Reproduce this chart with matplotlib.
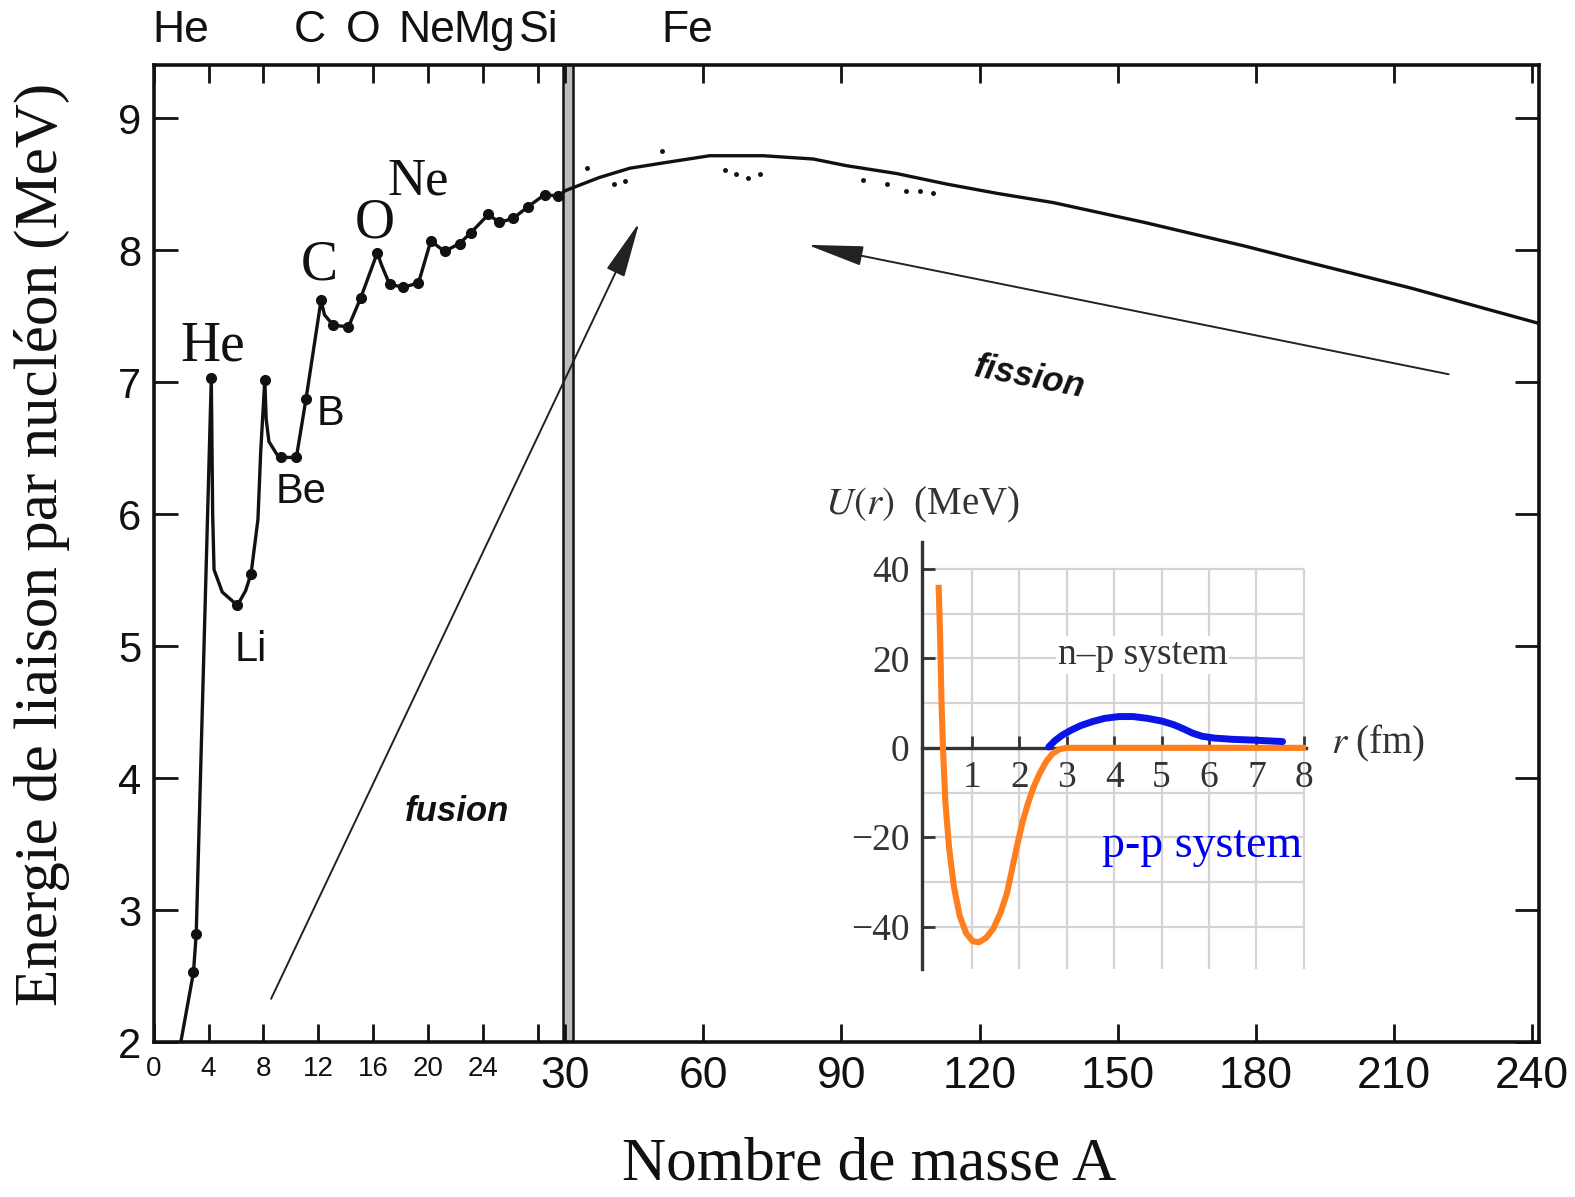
import matplotlib

matplotlib.use('Agg')
import matplotlib.pyplot as plt
import matplotlib.transforms as mtransforms
import numpy as np

plt.rcParams['mathtext.fontset'] = 'stix'

SANS = 'Liberation Sans'
SERIF = 'Liberation Serif'

# binding energy per nucleon curve (hand-drawn path through the nuclides)
curve_A = [1.8, 2.9, 3.1, 4.2, 4.3, 4.4, 5.0, 6.1, 6.7, 7.1, 7.6, 7.8, 8.1, 8.2, 8.4, 9.0,
           9.3, 10.4, 11.1, 12.2, 12.45, 13.1, 14.2, 15.1, 16.3, 16.6, 17.2, 18.2, 19.3,
           20.2, 21.2, 22.3, 23.1, 24.4, 25.2, 26.2, 27.3, 28.5, 29.5,
           30, 37.4, 44, 51.2, 61.4, 73, 83.9, 91, 102, 112.9, 123.8, 136, 155.8,
           177.7, 192.3, 214, 228.5, 241]
curve_E = [1.9, 2.53, 2.82, 7.03, 6.0, 5.58, 5.41, 5.31, 5.42, 5.55, 5.96, 6.47, 7.02, 6.72, 6.55, 6.45,
           6.43, 6.43, 6.87, 7.62, 7.51, 7.43, 7.42, 7.64, 7.98, 7.89, 7.74, 7.72, 7.75,
           8.07, 7.99, 8.05, 8.13, 8.27, 8.21, 8.24, 8.33, 8.42, 8.41,
           8.45, 8.55, 8.62, 8.66, 8.715, 8.715, 8.69, 8.64, 8.58, 8.50, 8.43, 8.36, 8.21,
           8.03, 7.90, 7.71, 7.57, 7.45]

# measured nuclides shown as dots
dot_A = [2.9, 3.1, 4.2, 6.1, 7.1, 8.1, 9.3, 10.4, 11.1, 12.2, 13.1, 14.2, 15.1, 16.3,
         17.2, 18.2, 19.3, 20.2, 21.2, 22.3, 23.1, 24.4, 25.2, 26.2, 27.3, 28.5, 29.5]
dot_E = [2.53, 2.82, 7.03, 5.31, 5.55, 7.02, 6.43, 6.43, 6.87, 7.62, 7.43, 7.42, 7.64, 7.98,
         7.74, 7.72, 7.75, 8.07, 7.99, 8.05, 8.13, 8.27, 8.21, 8.24, 8.33, 8.42, 8.41]

# scattered isotopes off the main curve
iso_A = [34.8, 40.7, 42.9, 51, 64.6, 67, 69.7, 72.3, 94.7, 100, 104, 107, 110]
iso_E = [8.62, 8.50, 8.52, 8.75, 8.61, 8.58, 8.55, 8.58, 8.53, 8.50, 8.45, 8.45, 8.43]

# element annotations on the curve: (text, A, E, family, size)
curve_labels = [('He', 4.3, 7.27, SERIF, 40), ('C', 12.1, 7.88, SERIF, 40),
                ('O', 16.1, 8.2, SERIF, 40), ('Ne', 19.3, 8.52, SERIF, 38),
                ('B', 12.9, 6.76, SANS, 30), ('Be', 10.75, 6.17, SANS, 30),
                ('Li', 7.1, 4.97, SANS, 30)]

# element names above the top axis
top_names = ['He', 'C', 'O', 'Ne', 'Mg', 'Si', 'Fe']
top_pos = [2.0, 11.4, 15.3, 19.9, 24.1, 28.1, 56.6]

small_ticks = [0, 4, 8, 12, 16, 20, 24, 28]
big_ticks = [30, 60, 90, 120, 150, 180, 210, 240]
y_ticks = [2, 3, 4, 5, 6, 7, 8, 9]

# nucleon-nucleon potential (inset)
r_np = [0.30, 0.33, 0.36, 0.39, 0.44, 0.52, 0.62, 0.74, 0.88, 1.02, 1.15, 1.30, 1.45,
        1.60, 1.74, 1.85, 1.96, 2.07, 2.18, 2.30, 2.43, 2.57, 2.70, 2.85, 3.0, 8.0]
U_np = [35.8, 25, 10, 0, -12, -22.5, -31, -37.5, -41.5, -43.3, -43.5, -42.5, -40.5,
        -37, -32.5, -27, -21.5, -16.5, -12.5, -8.8, -5.7, -3.0, -1.3, -0.3, 0, 0]
r_pp = [2.62, 2.75, 2.9, 3.1, 3.3, 3.55, 3.8, 4.1, 4.4, 4.7, 5.0, 5.25, 5.45, 5.65,
        5.85, 6.1, 6.5, 7.0, 7.55]
U_pp = [0.2, 1.6, 2.8, 4.0, 5.0, 5.9, 6.6, 7.0, 7.0, 6.6, 6.0, 5.2, 4.3, 3.3,
        2.6, 2.2, 1.9, 1.7, 1.4]

# broken mass axis: 0-30 stretched, 30-240 compressed
SPLIT = 30.0
STRETCH = 2.98


def fwd(a):
    a = np.asarray(a, dtype=float)
    return np.where(a <= SPLIT, a * STRETCH, SPLIT * STRETCH + (a - SPLIT))


def inv(u):
    u = np.asarray(u, dtype=float)
    return np.where(u <= SPLIT * STRETCH, u / STRETCH, SPLIT + (u - SPLIT * STRETCH))


W, H = 1568.0, 1192.0
fig = plt.figure(figsize=(15.75, 11.97), dpi=100)
ax = fig.add_axes([153 / W, 1 - 1038 / H, (1532 - 153) / W, (1038 - 65) / H])
ax.set_xscale('function', functions=(fwd, inv))
ax.set_xlim(0, 241.5)
ax.set_ylim(2, 9.40)

ink = '#111111'
ax.plot(curve_A, curve_E, color=ink, lw=2.4, solid_joinstyle='round', zorder=3)
ax.plot(dot_A, dot_E, 'o', color=ink, ms=7, zorder=4)
ax.plot(iso_A, iso_E, 'o', color=ink, ms=2.5, zorder=4)

# double bar at the change of scale
ax.axvspan(29.85, 31.7, color='#bdbdbd', lw=0, zorder=1)
ax.axvline(29.85, color=ink, lw=1.8, zorder=2)
ax.axvline(31.7, color=ink, lw=1.8, zorder=2)

for s in ax.spines.values():
    s.set_linewidth(2.6)
    s.set_color(ink)

ax.set_xticks(small_ticks + big_ticks)
ax.set_xticklabels([str(t) if t <= 24 else '' for t in small_ticks] + [str(t) for t in big_ticks])
for lab, t in zip(ax.get_xticklabels(), small_ticks + big_ticks):
    lab.set_family(SANS)
    lab.set_fontsize(20 if t < 30 else 32)
ax.set_yticks(y_ticks)
ax.set_yticklabels([str(t) for t in y_ticks], family=SANS, fontsize=30)
ax.tick_params(axis='x', direction='in', length=13, width=2, top=True, pad=10, colors=ink)
ax.tick_params(axis='y', direction='in', length=17, width=2, right=True, pad=9, colors=ink)

top_tr = mtransforms.blended_transform_factory(ax.transData, ax.transAxes)
for name, a in zip(top_names, top_pos):
    ax.text(a, 1.036, name, transform=top_tr, ha='center', va='center',
            family=SANS, fontsize=32, color=ink)

for txt, a, e, fam, size in curve_labels:
    ax.text(a, e, txt, ha='center', va='center', family=fam, fontsize=size, color=ink)

arrow = dict(arrowstyle='-|>,head_length=1.6,head_width=0.28', lw=1.4, color='#222222',
             shrinkA=0, shrinkB=0, mutation_scale=22)
ax.annotate('', xy=(46.1, 8.21), xytext=(8.56, 2.33), arrowprops=arrow)
ax.annotate('', xy=(82.6, 8.04), xytext=(221.9, 7.06), arrowprops=arrow)
ax.text(22.1, 3.75, 'fusion', ha='center', va='center', family=SANS, fontsize=25,
        weight='bold', style='italic', color=ink)
ax.text(130.9, 7.04, 'fission', ha='center', va='center', family=SANS, fontsize=25,
        weight='bold', style='italic', rotation=-11, color=ink)

fig.text(42 / W, 1 - 542 / H, 'Energie de liaison par nucléon (MeV)', rotation=90,
         ha='center', va='center', family=SERIF, fontsize=44, color=ink)
fig.text(865 / W, 1 - 1160 / H, 'Nombre de masse A', ha='center', va='center',
         family=SERIF, fontsize=44, color=ink)

# inset: nuclear potential
gray = '#333333'
ins = fig.add_axes([918 / W, 1 - 965 / H, 382 / W, 425 / H])
ins.set_xlim(-0.05, 8.04)
ins.set_ylim(-49.5, 46)
ins.set_facecolor('white')
ins.vlines(range(1, 9), -49.5, 40, color='#d4d4d4', lw=1.6, zorder=0)
ins.hlines([-40, -30, -20, -10, 10, 20, 30, 40], 0, 8, color='#d4d4d4', lw=1.6, zorder=0)
for side in ('top', 'right'):
    ins.spines[side].set_visible(False)
ins.spines['bottom'].set_position(('data', 0))
for side in ('left', 'bottom'):
    ins.spines[side].set_linewidth(2.4)
    ins.spines[side].set_color(gray)

ins.plot(r_np, U_np, color='#ff7f1e', lw=4.4, zorder=3)
ins.plot(r_pp, U_pp, color='#0a14e6', lw=5, solid_capstyle='round', zorder=4)

ins.set_xticks(range(1, 9))
ins.set_xticklabels([str(i) for i in range(1, 9)], family=SERIF, fontsize=27)
ins.set_yticks([-40, -20, 0, 20, 40])
ins.set_yticklabels(['\u221240', '\u221220', '0', '20', '40'], family=SERIF, fontsize=27)
ins.tick_params(axis='x', direction='in', length=9, width=2, colors=gray, pad=9)
ins.tick_params(axis='y', direction='in', length=9, width=2, colors=gray, pad=9)

ins.text(-0.05, 54.3, r'$U(r)$  (MeV)', ha='center', va='center', family=SERIF,
         fontsize=28, color=gray)
ins.text(9.57, 1.0, r'$r$ (fm)', ha='center', va='center', family=SERIF,
         fontsize=28, color=gray)
ins.text(4.6, 20.8, 'n\u2013p system', ha='center', va='center', family=SERIF, fontsize=27,
         color=gray, bbox=dict(facecolor='white', edgecolor='none', pad=1))
ins.text(5.86, -22, 'p-p system', ha='center', va='center', family=SERIF, fontsize=33,
         color='#0000ee')

fig.savefig('out.png', dpi=100)
